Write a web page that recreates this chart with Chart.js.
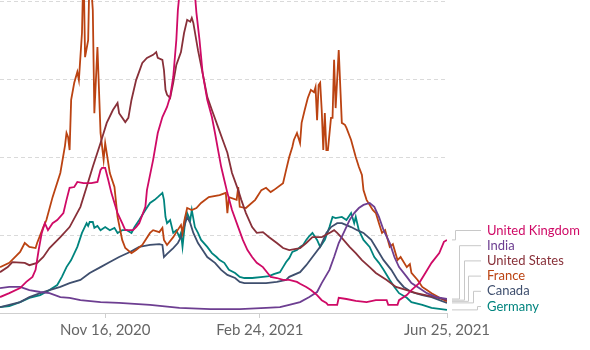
<!DOCTYPE html>
<html><head><meta charset="utf-8">
<script src="https://cdn.jsdelivr.net/npm/chart.js@4/dist/chart.umd.min.js"></script>
<style>html,body{margin:0;padding:0;background:#fff}canvas{display:block}</style>
</head><body>
<canvas id="c" width="590" height="350"></canvas>
<script>
// Daily new confirmed cases per million (7-day average)
// Each point: [days since startDate, value]
const startDate = "2020-09-09";
const endDate = "2021-06-25";
const tickDates = ["2020-11-16", "2021-02-24", "2021-06-25"];
const tickLabels = ["Nov 16, 2020", "Feb 24, 2021", "Jun 25, 2021"];
const yGridValues = [0, 200, 400, 600, 800];
const countries = ["United Kingdom", "India", "United States", "France", "Canada", "Germany"];
const colors = ["#cf0a66", "#6d3e91", "#883039", "#bb4312", "#3f4f6e", "#00847e"];

const unitedKingdom = [[0,41],[6,51],[13,64],[17,80],[21,93],[23,111],[25,162],[27,206],[29,231],[31,213],[34,231],[37,239],[41,257],[43,291],[45,322],[48,324],[50,337],[54,334],[59,334],[63,337],[65,368],[66,373],[68,373],[70,342],[72,309],[74,283],[76,257],[79,231],[81,213],[84,213],[86,213],[88,221],[90,231],[94,273],[95,316],[99,394],[102,463],[105,504],[108,530],[110,556],[112,607],[114,702],[115,779],[117,860],[120,880],[123,860],[126,820],[127,772],[129,702],[131,617],[134,548],[137,504],[139,463],[141,419],[143,376],[145,342],[147,309],[150,265],[154,221],[157,188],[160,162],[163,144],[166,129],[170,118],[173,103],[175,93],[179,90],[183,85],[187,85],[192,80],[194,75],[198,67],[201,59],[205,46],[208,33],[211,26],[212,21],[218,21],[219,39],[224,36],[230,31],[237,28],[243,33],[250,33],[251,21],[257,21],[258,33],[263,46],[266,59],[271,77],[275,103],[279,129],[284,154],[287,183],[289,188]];

const india = [[0,64],[6,67],[13,67],[19,59],[26,54],[32,51],[39,41],[45,39],[52,33],[65,28],[77,26],[97,21],[116,13],[136,10],[155,10],[172,13],[181,15],[187,21],[194,28],[200,41],[205,54],[208,77],[213,111],[216,144],[219,180],[223,213],[226,239],[229,257],[232,270],[235,278],[239,283],[242,273],[245,247],[248,213],[252,180],[255,144],[258,118],[263,93],[266,77],[271,64],[276,51],[282,41],[289,36]];

const unitedStates = [[0,105],[5,118],[8,131],[16,129],[19,123],[24,129],[28,144],[32,167],[39,195],[45,221],[52,273],[56,324],[60,376],[65,437],[69,489],[73,522],[76,540],[77,514],[81,491],[83,502],[85,548],[88,599],[92,643],[95,656],[99,664],[101,671],[102,656],[105,651],[106,625],[107,574],[108,561],[110,553],[112,592],[114,638],[117,671],[119,720],[121,754],[123,749],[124,759],[125,746],[128,676],[131,617],[134,556],[137,522],[141,478],[144,445],[147,412],[150,360],[154,316],[156,291],[159,257],[163,221],[166,206],[170,208],[174,195],[179,180],[183,167],[187,162],[194,167],[198,180],[202,195],[208,195],[213,206],[216,213],[218,206],[221,193],[226,170],[230,154],[234,136],[239,118],[243,103],[250,85],[256,67],[263,59],[269,51],[275,46],[282,40],[289,33]];

const france = [[0,118],[6,129],[13,157],[16,180],[19,170],[23,167],[24,180],[28,221],[30,239],[34,298],[39,360],[42,430],[43,463],[44,453],[45,419],[46,548],[48,592],[50,620],[51,599],[53,720],[54,900],[55,658],[57,702],[58,900],[60,779],[61,514],[63,684],[65,463],[67,394],[68,437],[71,360],[74,324],[76,247],[79,188],[81,167],[85,154],[88,162],[92,175],[97,206],[99,213],[103,208],[105,219],[106,188],[108,175],[112,195],[114,208],[117,226],[118,206],[119,234],[121,270],[124,265],[127,270],[130,283],[135,298],[142,303],[146,309],[147,257],[148,298],[153,291],[154,324],[155,273],[159,270],[165,291],[169,316],[172,322],[175,311],[177,316],[183,334],[185,368],[187,401],[189,427],[190,445],[192,463],[194,437],[195,489],[197,522],[199,553],[201,574],[203,568],[204,581],[205,496],[206,586],[207,592],[208,522],[209,419],[210,514],[211,419],[212,419],[214,502],[215,502],[216,651],[217,527],[219,676],[221,489],[223,484],[224,476],[227,445],[230,401],[232,376],[234,355],[235,316],[237,291],[241,265],[243,257],[245,231],[247,206],[249,213],[252,170],[254,177],[257,136],[259,144],[263,118],[265,126],[266,103],[270,85],[273,67],[276,59],[279,51],[284,40],[289,30]];

const canada = [[0,15],[13,28],[19,41],[26,51],[32,59],[39,67],[45,77],[52,85],[58,103],[65,118],[71,131],[77,144],[84,157],[90,170],[97,175],[103,177],[105,175],[106,144],[108,152],[112,167],[115,180],[117,195],[119,221],[121,247],[123,231],[125,206],[128,180],[131,162],[134,144],[139,129],[143,111],[147,98],[152,90],[155,80],[158,77],[166,77],[172,77],[179,80],[185,85],[187,93],[194,105],[198,123],[202,144],[207,170],[211,206],[214,221],[218,231],[221,231],[224,226],[227,221],[231,213],[235,206],[240,188],[244,162],[248,136],[253,111],[257,85],[261,67],[266,54],[273,46],[279,41],[289,26]];

const germany = [[0,15],[6,18],[13,28],[19,39],[26,46],[32,59],[37,72],[40,93],[43,118],[46,136],[50,170],[53,206],[56,231],[57,224],[58,234],[60,234],[61,219],[63,224],[65,213],[68,221],[71,213],[74,219],[76,206],[79,213],[82,213],[85,206],[87,221],[90,239],[94,265],[97,283],[100,291],[102,298],[105,309],[106,291],[107,247],[108,231],[110,239],[112,206],[114,213],[116,195],[117,206],[118,170],[120,247],[121,257],[123,239],[124,265],[126,221],[128,206],[130,188],[134,170],[137,154],[140,144],[142,136],[145,129],[148,111],[152,103],[155,93],[158,90],[163,90],[170,93],[174,95],[177,100],[181,105],[183,118],[185,131],[187,141],[189,157],[192,162],[194,170],[196,175],[198,188],[200,198],[202,206],[205,188],[207,170],[210,188],[213,221],[215,247],[217,244],[221,247],[224,239],[227,257],[229,231],[230,247],[232,213],[235,188],[239,170],[242,144],[245,129],[248,111],[252,85],[255,67],[258,51],[263,39],[266,28],[273,21],[279,13],[289,8]];

const seriesValues = [unitedKingdom, india, unitedStates, france, canada, germany];

function dayOf(s) {
  const p = s.split("-").map(Number);
  const q = startDate.split("-").map(Number);
  return Math.round((Date.UTC(p[0], p[1] - 1, p[2]) - Date.UTC(q[0], q[1] - 1, q[2])) / 86400000);
}
const tickDays = tickDates.map(dayOf);

const endLabels = {
  id: "endLabels",
  afterDatasetsDraw(chart) {
    const { ctx, chartArea, scales } = chart;
    const x = scales.x, y = scales.y;
    const items = chart.data.datasets.map(ds => {
      const last = ds.data[ds.data.length - 1];
      return { name: ds.label, color: ds.borderColor, endX: x.getPixelForValue(last.x), endY: y.getPixelForValue(last.y) };
    });
    items.sort((a, b) => a.endY - b.endY);
    const gap = 15.2;
    let prev = chartArea.bottom - 6.5 + gap;
    for (let i = items.length - 1; i >= 0; i--) {
      items[i].labelY = Math.min(items[i].endY, prev - gap);
      prev = items[i].labelY;
    }
    ctx.save();
    ctx.strokeStyle = "#c8c8c8";
    ctx.lineWidth = 1;
    ctx.font = "13px Lato";
    ctx.textBaseline = "middle";
    ctx.textAlign = "left";
    items.forEach((it, i) => {
      const vx = Math.round(it.endX + 8 + i * 4.4) + 0.5;
      ctx.beginPath();
      ctx.moveTo(it.endX + 5, it.endY);
      ctx.lineTo(vx, it.endY);
      ctx.lineTo(vx, it.labelY);
      ctx.lineTo(it.endX + 34, it.labelY);
      ctx.stroke();
      ctx.fillStyle = it.color;
      ctx.fillText(it.name, it.endX + 40, it.labelY);
    });
    ctx.restore();
  }
};

new Chart(document.getElementById("c"), {
  type: "line",
  data: {
    datasets: countries.map((name, i) => ({
      label: name,
      data: seriesValues[i].map(p => ({ x: p[0], y: p[1] })),
      borderColor: colors[i],
      backgroundColor: colors[i],
      borderWidth: 1.8,
      pointRadius: 0,
      tension: 0,
      fill: false
    }))
  },
  options: {
    responsive: false,
    animation: false,
    devicePixelRatio: 1,
    layout: { padding: { left: 0, right: 143, top: 0, bottom: 0 } },
    plugins: { legend: { display: false }, tooltip: { enabled: false } },
    scales: {
      x: {
        type: "linear",
        min: 0,
        max: dayOf(endDate),
        afterBuildTicks: s => { s.ticks = tickDays.map(v => ({ value: v })); },
        afterFit: s => { s.height = 37; },
        ticks: {
          autoSkip: false, maxRotation: 0, minRotation: 0,
          color: "#666", font: { family: "Lato", size: 15 }, padding: 3,
          callback: (v, i) => tickLabels[i]
        },
        grid: { display: true, drawOnChartArea: false, drawTicks: true, tickLength: 5, color: "#cfcfcf" },
        border: { display: true, color: "#cfcfcf", width: 1 }
      },
      y: {
        min: 0,
        max: 805,
        afterBuildTicks: s => { s.ticks = yGridValues.map(v => ({ value: v })); },
        afterFit: s => { s.width = 0; },
        ticks: { display: false },
        grid: { drawTicks: false, lineWidth: 1, color: c => (c.tick && c.tick.value === 0) ? "rgba(0,0,0,0)" : "#dadada" },
        border: { display: false, dash: [4, 3] }
      }
    }
  },
  plugins: [endLabels]
});
</script>
</body></html>
